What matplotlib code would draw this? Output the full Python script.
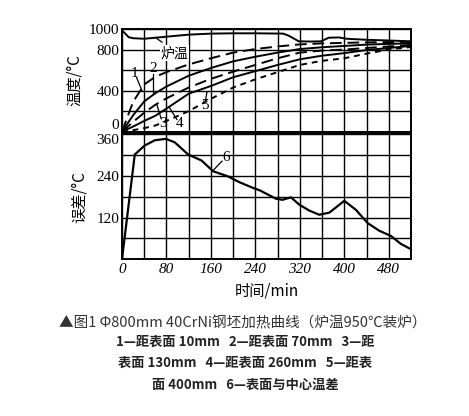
import numpy as np
import matplotlib
matplotlib.use("Agg")
import matplotlib.pyplot as plt

plt.rcParams['font.family'] = ['Noto Sans CJK SC', 'DejaVu Sans']

# furnace temperature
t_furnace = [0, 5, 12, 20, 40, 80, 120, 160, 200, 240, 290, 300, 318, 340, 358, 372, 390, 404, 440, 480, 520]
furnace = [985, 960, 920, 910, 905, 925, 945, 955, 958, 958, 955, 935, 880, 878, 880, 915, 918, 905, 895, 888, 880]

# heating curves, 1..5
t_heat = [0, 20, 40, 60, 80, 120, 160, 200, 240, 280, 320, 360, 400, 440, 480, 520]
curve1 = [0, 290, 460, 535, 580, 655, 715, 770, 805, 830, 850, 860, 865, 870, 872, 875]
curve2 = [0, 160, 295, 375, 440, 545, 620, 685, 730, 770, 805, 822, 835, 848, 855, 860]
curve3 = [0, 95, 185, 262, 325, 430, 515, 585, 650, 715, 770, 790, 800, 815, 830, 845]
curve4 = [0, 50, 105, 155, 225, 370, 445, 530, 590, 650, 705, 740, 765, 795, 815, 835]
curve5 = [0, 15, 35, 60, 105, 200, 320, 430, 510, 580, 650, 690, 715, 760, 800, 825]

# surface-centre temperature difference
t_diff = [0, 23, 41, 59, 79, 95, 119, 143, 164, 191, 212, 236, 248, 277, 289, 304,
          319, 337, 355, 373, 400, 421, 442, 463, 484, 502, 520]
diff = [0, 301, 327, 342, 346, 336, 301, 284, 253, 238, 221, 205, 198, 174, 171, 178,
        157, 140, 128, 134, 168, 142, 104, 82, 67, 44, 29]

serif = 'Liberation Serif'

fig = plt.figure(figsize=(4.69, 4.16), dpi=100)
ax1 = fig.add_axes([0.2601, 0.6834, 0.6162, 0.2469])
ax2 = fig.add_axes([0.2601, 0.3767, 0.6162, 0.3012])

for ax in (ax1, ax2):
    ax.set_xlim(0, 520)
    ax.set_xticks(np.arange(0, 521, 40))
    ax.grid(True, color='black', lw=1.0)
    ax.tick_params(length=0, pad=2)
    for s in ax.spines.values():
        s.set_linewidth(1.4)

# top panel
ax1.set_ylim(0, 1000)
ax1.set_yticks(np.arange(0, 1001, 200))
ax1.set_yticklabels(['0', '', '400', '', '800', '1000'], fontfamily=serif, fontsize=11)
ax1.get_yticklabels()[0].set_va('bottom')
ax1.set_xticklabels([])

ax1.plot(t_furnace, furnace, color='black', lw=1.4)
ax1.plot(t_heat, curve1, color='black', lw=1.4, ls=(0, (6, 3)))
ax1.plot(t_heat, curve2, color='black', lw=1.4)
ax1.plot(t_heat, curve3, color='black', lw=1.4, ls=(0, (6, 3)))
ax1.plot(t_heat, curve4, color='black', lw=1.4)
ax1.plot(t_heat, curve5, color='black', lw=1.4, ls=(0, (3, 2.5)))

ax1.text(70, 765, '炉温', fontsize=10, ha='left', va='center',
         bbox=dict(facecolor='white', edgecolor='none', pad=0.5))
ax1.plot([62, 72], [910, 872], color='black', lw=0.9)
for lab, (tx, ty), (ex, ey) in [('1', (23, 570), (36, 400)),
                                ('2', (56, 620), (56, 370)),
                                ('3', (73, 82), (63, 260)),
                                ('4', (103, 82), (86, 230)),
                                ('5', (149, 260), (153, 390))]:
    ax1.text(tx, ty, lab, fontfamily=serif, fontsize=11, ha='center', va='center')
    ax1.plot([tx + (ex - tx) * 0.25, ex], [ty + (ey - ty) * 0.25, ey], color='black', lw=0.9)
ax1.set_ylabel('温度/°C', fontsize=11, labelpad=4)

# bottom panel
ax2.set_ylim(0, 360)
ax2.set_yticks(np.arange(0, 361, 60))
ax2.set_yticklabels(['', '', '120', '', '240', '', '360'], fontfamily=serif, fontsize=11)
ax2.get_yticklabels()[-1].set_va('top')
xl = [str(v) if v % 80 == 0 else '' for v in range(0, 521, 40)]
ax2.set_xticklabels(xl, fontfamily=serif, fontsize=11, style='italic')
ax2.tick_params(axis='x', pad=3)

ax2.plot(t_diff, diff, color='black', lw=1.6)
ax2.text(188, 292, '6', fontfamily=serif, fontsize=11, ha='center', va='center')
ax2.plot([180, 162], [282, 252], color='black', lw=0.9)
ax2.set_ylabel('误差/°C', fontsize=11, labelpad=6)
ax2.set_xlabel('时间/min', fontsize=11, labelpad=4)

fig.text(0.517, 0.223, '▲图1 Φ800mm 40CrNi钢坯加热曲线（炉温950℃装炉）',
         fontsize=10.5, color='#333333', ha='center', va='center')
legend_lines = ['1—距表面 10mm   2—距表面 70mm   3—距',
                '表面 130mm   4—距表面 260mm   5—距表',
                '面 400mm   6—表面与中心温差']
for i, line in enumerate(legend_lines):
    fig.text(0.522, 0.178 - i * 0.051, line, fontsize=9.5, fontweight='bold',
             color='#222222', ha='center', va='center')

fig.savefig('out.png', dpi=100)
